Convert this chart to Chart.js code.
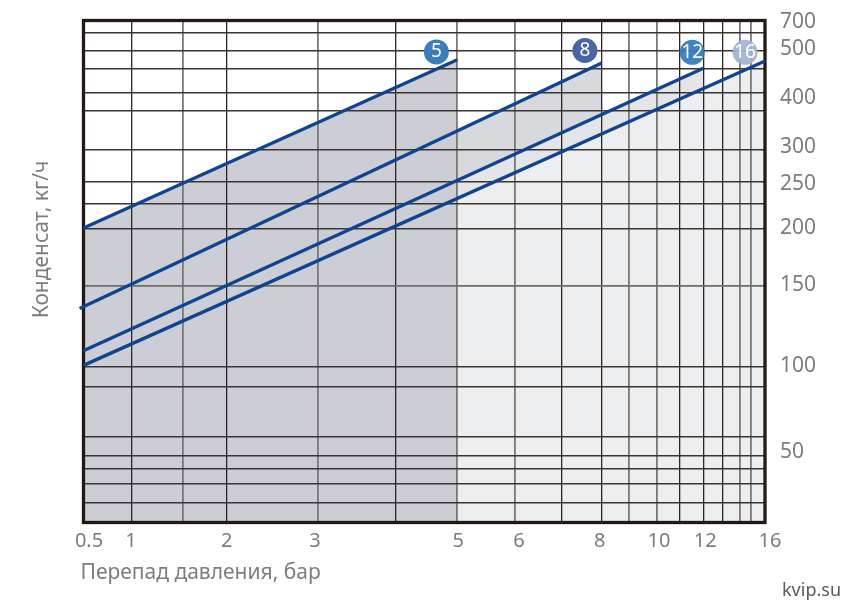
<!DOCTYPE html>
<html>
<head>
<meta charset="utf-8">
<title>Конденсат</title>
<script src="https://cdn.jsdelivr.net/npm/chart.js@4"></script>
<style>
    html, body { margin: 0; padding: 0; background: #fff; }
    #wrap { position: relative; width: 860px; height: 614px; }
</style>
</head>
<body>
<div id="wrap"><canvas id="chart1"></canvas></div>
<script>
// Values
var pressure5 = [0.5, 5];
var flow5 = [201, 474];
var pressure8 = [0.46, 8];
var flow8 = [136, 465];
var pressure12 = [0.5, 12];
var flow12 = [110, 451];
var pressure16 = [0.5, 16];
var flow16 = [101, 471];

var badgeNames = ['5', '8', '12', '16'];
var badgePressure = [4.66, 7.58, 11.54, 14.45];
var badgeFlow = [496, 500, 495, 495];

var xTickLabels = ['0.5', '1', '2', '3', '5', '6', '8', '10', '12', '16'];
var yTickLabels = ['700', '500', '400', '300', '250', '200', '150', '100', '50'];
var xGridValues = [0.5, 1, 1.5, 2, 3, 4, 5, 6, 7, 8, 9, 10, 11, 12, 13, 14, 15, 16];
var yGridValues = [30, 35, 40, 45, 50, 60, 90, 100, 150, 200, 225, 250, 300, 350, 400, 450, 500, 600, 700];

// The printed axes are neither linear nor log, so each grid value has its place along the axis
var xGridPlace = [83.5, 132, 182.7, 226.7, 318, 395.7, 457.3, 515, 561.7, 601.7, 629, 657, 679.3, 703.3, 722.7, 740, 751.3, 765];
var yGridPlace = [522.5, 503, 484, 469, 456, 437, 387, 367, 285.7, 229, 204, 182, 149.7, 111, 93, 68.5, 50.5, 33, 20.5];

var xLabelShift = [5.5, -1, 0, -3, 1, 4, -2, 2, 2, 5];
var yLabelShift = [2, -1, 5, -3, 2, -1, -1, -1, -4];

var greyXLines = [1.5, 3, 5, 6, 9, 10, 14, 15];
var greyYLines = [150];

class PlacedScale extends Chart.LinearScale {
    getPixelForValue(value) {
        var stops = this.options.stops;
        var places = this.options.places;
        var i = 0;
        while (i < stops.length - 2 && value > stops[i + 1]) i++;
        var p = places[i] + (value - stops[i]) / (stops[i + 1] - stops[i]) * (places[i + 1] - places[i]);
        var first = places[0];
        var last = places[places.length - 1];
        return this.getPixelForDecimal((p - first) / (last - first));
    }
    buildTicks() {
        return this.options.stops.map(function(v) { return { value: v }; });
    }
    _computeLabelItems(chartArea) {
        var items = super._computeLabelItems(chartArea);
        var names = this.options.shiftNames;
        var shifts = this.options.shifts;
        var horizontal = this.isHorizontal();
        if (names) {
            items.forEach(function(item) {
                var k = names.indexOf(item.label);
                if (k >= 0) {
                    var t = item.options.translation;
                    item.options.translation = horizontal ? [t[0] + shifts[k], t[1]] : [t[0], t[1] + shifts[k]];
                }
            });
        }
        return items;
    }
    drawTitle() {
        var shift = this.options.titleShift || [0, 0];
        this.ctx.save();
        this.ctx.translate(shift[0], shift[1]);
        super.drawTitle();
        this.ctx.restore();
    }
}
PlacedScale.id = 'placed';
PlacedScale.defaults = Chart.LinearScale.defaults;
Chart.register(PlacedScale);

var framePlugin = {
    id: 'frame',
    beforeDatasetsDraw: function(chart) {
        var a = chart.chartArea;
        var ctx = chart.ctx;
        ctx.save();
        ctx.strokeStyle = '#231815';
        ctx.lineWidth = 3.3;
        ctx.strokeRect(a.left, a.top, a.right - a.left, a.bottom - a.top);
        ctx.restore();
    }
};

var badgeTextPlugin = {
    id: 'badgeText',
    afterDatasetsDraw: function(chart) {
        var ctx = chart.ctx;
        var points = chart.getDatasetMeta(0).data;
        ctx.save();
        ctx.fillStyle = '#ffffff';
        ctx.font = '19px "Noto Sans"';
        ctx.textAlign = 'center';
        ctx.textBaseline = 'middle';
        points.forEach(function(p, i) {
            ctx.fillText(badgeNames[i], p.x, p.y);
        });
        ctx.fillStyle = '#5a5a5a';
        ctx.font = '18px "Noto Sans"';
        ctx.textAlign = 'left';
        ctx.fillText('kvip.su', 782, 591);
        ctx.restore();
    }
};

function seriesData(xs, ys) {
    return xs.map(function(x, i) { return { x: x, y: ys[i] }; });
}

function lineSeries(label, xs, ys, fillColor, fillTo) {
    return {
        label: label,
        data: seriesData(xs, ys),
        showLine: true,
        borderColor: '#0e4490',
        borderWidth: 3.3,
        backgroundColor: fillColor,
        fill: fillTo,
        pointRadius: 0,
        clip: false,
        tension: 0
    };
}

function noPadding(s) {
    s.paddingTop = 0;
    s.paddingBottom = 0;
    s.paddingLeft = 0;
    s.paddingRight = 0;
}

function makeChart() {
    var ctx1 = document.getElementById('chart1').getContext('2d');
    new Chart(ctx1, {
        type: 'scatter',
        data: {
            datasets: [
                {
                    label: 'badges',
                    data: seriesData(badgePressure, badgeFlow),
                    pointRadius: 12.5,
                    pointHoverRadius: 12.5,
                    pointBorderWidth: 0,
                    pointBackgroundColor: ['#3a7dbf', '#4b64a6', 'rgba(52,122,190,0.94)', 'rgba(160,178,216,0.92)'],
                    showLine: false,
                    clip: false
                },
                // 5 goes over everything down to the axis, the others only fill the band to the next line
                lineSeries('5', pressure5, flow5, '#cdced5', 'start'),
                lineSeries('8', pressure8, flow8, '#d8d9dd', '+1'),
                lineSeries('12', pressure12, flow12, '#e4e5e9', '+1'),
                lineSeries('16', pressure16, flow16, '#eceef0', 'start')
            ]
        },
        plugins: [framePlugin, badgeTextPlugin],
        options: {
            responsive: false,
            animation: false,
            layout: { padding: { left: 0, right: 0, top: 20.5, bottom: 0 } },
            plugins: {
                legend: { display: false },
                title: { display: false },
                tooltip: { enabled: false },
                filler: { drawTime: 'beforeDraw' }
            },
            scales: {
                x: {
                    type: 'placed',
                    min: 0.5,
                    max: 16,
                    stops: xGridValues,
                    places: xGridPlace,
                    shiftNames: xTickLabels,
                    shifts: xLabelShift,
                    titleShift: [-3, -28],
                    afterFit: function(s) { s.height = 91.5; noPadding(s); },
                    grid: {
                        drawTicks: false,
                        color: function(c) { return greyXLines.indexOf(c.tick.value) >= 0 ? '#7c7876' : '#2b2524'; },
                        lineWidth: function(c) { return greyXLines.indexOf(c.tick.value) >= 0 ? 1.8 : 1.3; }
                    },
                    border: { display: false },
                    ticks: {
                        autoSkip: false,
                        maxRotation: 0,
                        padding: 7,
                        color: '#7d7d7d',
                        font: { family: '"Noto Sans"', size: 20 },
                        callback: function(v) {
                            return xTickLabels.indexOf(String(v)) >= 0 ? String(v) : '';
                        }
                    },
                    title: {
                        display: true,
                        text: 'Перепад давления, бар',
                        align: 'start',
                        color: '#7d7d7d',
                        font: { family: '"Noto Sans"', size: 21 },
                        padding: { top: 0, bottom: 0 }
                    }
                },
                y: {
                    type: 'placed',
                    position: 'right',
                    min: 30,
                    max: 700,
                    stops: yGridValues,
                    places: yGridPlace,
                    shiftNames: yTickLabels,
                    shifts: yLabelShift,
                    afterFit: function(s) { s.width = 95; noPadding(s); },
                    grid: {
                        drawTicks: false,
                        color: function(c) { return greyYLines.indexOf(c.tick.value) >= 0 ? '#6f6b69' : '#3a3433'; },
                        lineWidth: function(c) { return greyYLines.indexOf(c.tick.value) >= 0 ? 1.8 : 1.4; }
                    },
                    border: { display: false },
                    ticks: {
                        autoSkip: false,
                        padding: 15,
                        color: '#7d7d7d',
                        font: { family: '"Noto Sans"', size: 21 },
                        callback: function(v) {
                            return yTickLabels.indexOf(String(v)) >= 0 ? String(v) : '';
                        }
                    }
                },
                yTitle: {
                    type: 'placed',
                    position: 'left',
                    min: 30,
                    max: 700,
                    stops: yGridValues,
                    places: yGridPlace,
                    titleShift: [29, -32],
                    afterFit: function(s) { s.width = 83.5; noPadding(s); },
                    grid: { display: false },
                    border: { display: false },
                    ticks: { display: false },
                    title: {
                        display: true,
                        text: 'Конденсат, кг/ч',
                        color: '#7d7d7d',
                        font: { family: '"Noto Sans"', size: 21 },
                        padding: 0
                    }
                }
            }
        }
    });
}

window.onload = function() {
    var c = document.getElementById('chart1');
    c.width = 860;
    c.height = 614;
    makeChart();
};
</script>
</body>
</html>
